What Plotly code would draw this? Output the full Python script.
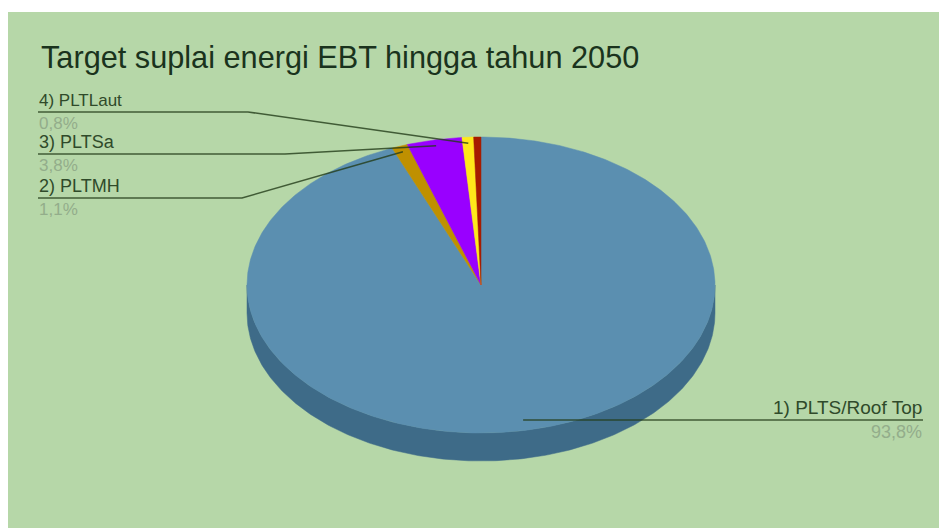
import math
import plotly.graph_objects as go

# Energy-mix shares in percent, clockwise from twelve o'clock
names = ["1) PLTS/Roof Top", "2) PLTMH", "3) PLTSa", "4) PLTLaut", "PLTB"]
shares = [93.8, 1.1, 3.8, 0.8, 0.5]
percent_labels = ["93,8%", "1,1%", "3,8%", "0,8%"]
slice_colors = ["#5b8fb0", "#bf9000", "#9900ff", "#ffe81a", "#a61c00"]

title = "Target suplai energi EBT hingga tahun 2050"

# Tilted-disc geometry on a pixel-sized cartesian plane
W, H = 939, 528
CX, CY, RX, RY, DEPTH = 481, 285, 234, 148, 28
SIDE = "#3e6b88"
BG = "#b6d7a8"
LEADER = "rgba(35,60,25,0.8)"

# Where each leader line leaves its label:
# (x start, x elbow, y, depth into the wedge, name size, percent size)
leader_anchor = {
    0: (923, 923, 420, 0.93, 19, 18),
    1: (38, 242, 198, 0.96, 18, 17),
    2: (38, 285, 154, 0.96, 18, 17),
    3: (38, 248, 112, 0.96, 17, 17),
}


def rim(angle, k=1.0, drop=0):
    return CX + RX * k * math.sin(angle), CY - RY * k * math.cos(angle) + drop


def arc(a0, a1, drop=0):
    n = max(3, int(abs(a1 - a0) * 90))
    return [rim(a0 + (a1 - a0) * i / n, drop=drop) for i in range(n + 1)]


fig = go.Figure()

# Side wall: the front half of the rim and its lowered copy
front = arc(math.pi / 2, 3 * math.pi / 2)
lowered = arc(3 * math.pi / 2, math.pi / 2, drop=DEPTH)
wall = front + lowered + front[:1]
fig.add_trace(go.Scatter(
    x=[p[0] for p in wall], y=[p[1] for p in wall], mode="lines",
    fill="toself", fillcolor=SIDE, line=dict(color=SIDE, width=0.5),
    hoverinfo="skip", showlegend=False,
))

# Top face, one wedge per share
total = sum(shares)
start = 0.0
mids = []
for name, share, color in zip(names, shares, slice_colors):
    end = start + share / total * 2 * math.pi
    mids.append((start + end) / 2)
    pts = [(CX, CY)] + arc(start, end) + [(CX, CY)]
    fig.add_trace(go.Scatter(
        x=[p[0] for p in pts], y=[p[1] for p in pts], mode="lines",
        fill="toself", fillcolor=color, line=dict(color=color, width=0.5),
        name=name, hoverinfo="name", showlegend=False,
    ))
    start = end

# Leader lines run from each label to a point inside its wedge
for i, (x0, xe, y, k, _, _) in leader_anchor.items():
    tx, ty = rim(mids[i], k)
    fig.add_trace(go.Scatter(
        x=[x0, xe, tx], y=[y, y, ty], mode="lines",
        line=dict(color=LEADER, width=1.5),
        hoverinfo="skip", showlegend=False,
    ))

# Label above each leader, percentage below it
for i, (x0, xe, y, k, name_size, pct_size) in leader_anchor.items():
    anchor = "right" if i == 0 else "left"
    fig.add_annotation(
        x=x0, y=y - 1, text=names[i], showarrow=False, xanchor=anchor, yanchor="bottom",
        font=dict(family="Liberation Sans", size=name_size, color="#2f4a2a"),
        borderpad=0,
    )
    fig.add_annotation(
        x=x0, y=y + 1, text=percent_labels[i], showarrow=False, xanchor=anchor, yanchor="top",
        font=dict(family="Liberation Sans", size=pct_size, color="#93ad8b"),
        borderpad=0,
    )

fig.add_annotation(
    x=39, y=57, text=title, showarrow=False, xanchor="left", yanchor="middle",
    font=dict(family="Liberation Sans", size=30.7, color="#1a331d"),
)

fig.update_layout(
    width=W, height=H, margin=dict(l=0, r=0, t=0, b=0),
    paper_bgcolor="white", plot_bgcolor="white",
    xaxis=dict(range=[0, W], visible=False, fixedrange=True),
    yaxis=dict(range=[H, 0], visible=False, fixedrange=True),
    # Panel colour inset from the top and left of the page
    shapes=[dict(type="rect", xref="x", yref="y", x0=8, y0=12, x1=W, y1=H,
                 fillcolor=BG, line=dict(width=0), layer="below")],
)

fig.write_html("out.html", config={"displayModeBar": False})
